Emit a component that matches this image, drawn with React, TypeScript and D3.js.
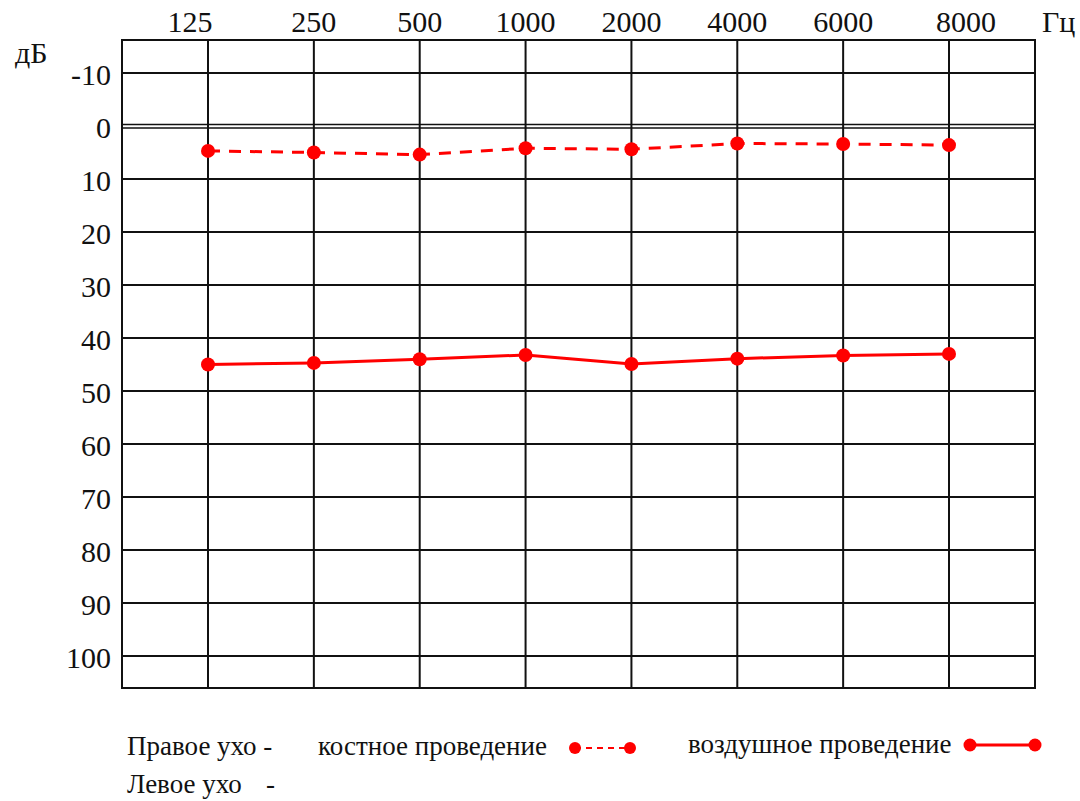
import React from "react";
import * as d3 from "d3";

const frequencies = ["125", "250", "500", "1000", "2000", "4000", "6000", "8000"];
const dbTicks = [-10, 0, 10, 20, 30, 40, 50, 60, 70, 80, 90, 100];
const boneConduction = [4.7, 5.0, 5.4, 4.2, 4.4, 3.3, 3.4, 3.6];
const airConduction = [45.0, 44.7, 44.0, 43.2, 44.9, 43.9, 43.3, 43.0];
const freqUnit = "Гц";
const dbUnit = "дБ";
const legendEarRight = "Правое ухо -";
const legendEarLeft = "Левое ухо";
const legendBone = "костное проведение";
const legendAir = "воздушное проведение";

const W = 1080;
const H = 801;
const frame = { left: 122, right: 1035, top: 40, bottom: 688 };
const RED = "#f00";
const FONT = '"Liberation Serif", Tinos, "Times New Roman", "DejaVu Serif", serif';

export default function App() {
  const x = d3.scalePoint<string>().domain(frequencies).range([208, 949]);
  const y = d3.scaleLinear().domain([-10, 100]).range([73, 656]);

  const line = d3
    .line<number>()
    .x((_, i) => x(frequencies[i]) as number)
    .y((d) => y(d));

  const labelOffset = (i: number) =>
    i === 0 ? -18 : i === frequencies.length - 1 ? 17 : 0;

  const txt = { fontFamily: FONT, fill: "#111" } as React.CSSProperties;

  return (
    <svg
      width={W}
      height={H}
      style={{ position: "absolute", left: 0, top: 0, background: "#fff", fontFamily: FONT }}
    >
      <rect x={0} y={0} width={W} height={H} fill="#fff" />
      {dbTicks.map((t) =>
        t === 0 ? (
          <g key={t}>
            <line x1={frame.left} x2={frame.right} y1={y(t) - 1.5} y2={y(t) - 1.5} stroke="#111" strokeWidth={1.6} />
            <line x1={frame.left} x2={frame.right} y1={y(t) + 2} y2={y(t) + 2} stroke="#111" strokeWidth={1.6} />
          </g>
        ) : (
          <line key={t} x1={frame.left} x2={frame.right} y1={y(t)} y2={y(t)} stroke="#111" strokeWidth={2} />
        )
      )}
      {frequencies.map((f) => (
        <line key={f} x1={x(f)} x2={x(f)} y1={frame.top} y2={frame.bottom} stroke="#111" strokeWidth={2} />
      ))}
      <rect
        x={frame.left}
        y={frame.top}
        width={frame.right - frame.left}
        height={frame.bottom - frame.top}
        fill="none"
        stroke="#111"
        strokeWidth={2}
      />
      {frequencies.map((f, i) => (
        <text key={f} x={(x(f) as number) + labelOffset(i)} y={32} fontSize={30} textAnchor="middle" style={txt}>
          {f}
        </text>
      ))}
      <text x={1042} y={32} fontSize={30} style={txt}>{freqUnit}</text>
      {dbTicks.map((t) => (
        <text key={t} x={111} y={y(t) + 12} fontSize={30} textAnchor="end" style={txt}>
          {t}
        </text>
      ))}
      <text x={15} y={63} fontSize={30} style={txt}>{dbUnit}</text>

      <path d={line(boneConduction) || ""} fill="none" stroke={RED} strokeWidth={3} strokeDasharray="12 9" />
      {boneConduction.map((v, i) => (
        <circle key={i} cx={x(frequencies[i])} cy={y(v)} r={7} fill={RED} />
      ))}
      <path d={line(airConduction) || ""} fill="none" stroke={RED} strokeWidth={3} />
      {airConduction.map((v, i) => (
        <circle key={i} cx={x(frequencies[i])} cy={y(v)} r={7} fill={RED} />
      ))}

      <text x={127} y={755} fontSize={27} style={txt}>{legendEarRight}</text>
      <text x={318} y={755} fontSize={27} style={txt}>{legendBone}</text>
      <line x1={575} x2={630} y1={748} y2={748} stroke={RED} strokeWidth={2} strokeDasharray="6 5" />
      <circle cx={575} cy={748} r={6} fill={RED} />
      <circle cx={630} cy={748} r={6} fill={RED} />
      <text x={688} y={753} fontSize={27} style={txt}>{legendAir}</text>
      <line x1={970} x2={1035} y1={745} y2={745} stroke={RED} strokeWidth={3} />
      <circle cx={970} cy={745} r={6.5} fill={RED} />
      <circle cx={1035} cy={745} r={6.5} fill={RED} />
      <text x={127} y={793} fontSize={27} style={txt}>{legendEarLeft}</text>
      <text x={266} y={793} fontSize={27} style={txt}>-</text>
    </svg>
  );
}
